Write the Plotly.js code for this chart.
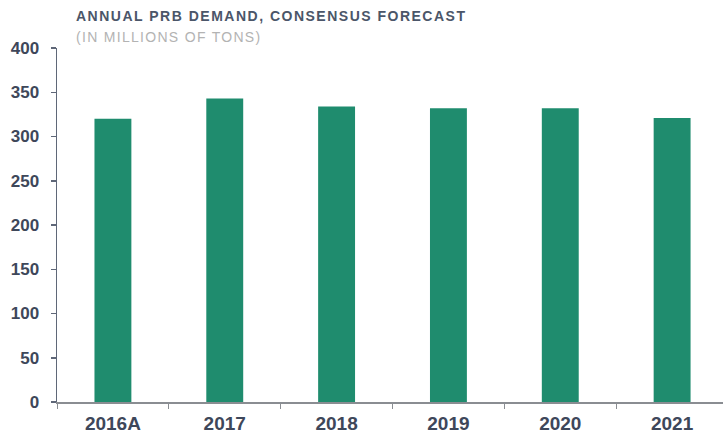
<!DOCTYPE html>
<html>
<head>
<meta charset="utf-8">
<script src="https://cdn.plot.ly/plotly-3.0.1.min.js"></script>
<style>
html,body{margin:0;padding:0;background:#fff;}
</style>
</head>
<body>
<div id="chart" style="width:723px;height:439px;"></div>
<script>
const categories = ["2016A", "2017", "2018", "2019", "2020", "2021"];
const demand = [320, 343, 334, 332, 332, 321];
const yTicks = [0, 50, 100, 150, 200, 250, 300, 350, 400];
const titleText = "ANNUAL PRB DEMAND, CONSENSUS FORECAST";
const subtitleText = "(IN MILLIONS OF TONS)";

const labelColor = "#3e475a";

Plotly.newPlot("chart", [{
  type: "bar",
  x: categories,
  y: demand,
  marker: {color: "#1f8c6e", line: {width: 0}},
  hoverinfo: "none"
}], {
  width: 723,
  height: 439,
  margin: {l: 57, r: 0, t: 48, b: 37},
  paper_bgcolor: "#ffffff",
  plot_bgcolor: "#ffffff",
  bargap: 0.67,
  showlegend: false,
  font: {family: "Liberation Sans, Arial, sans-serif"},
  xaxis: {
    type: "category",
    range: [-0.5, 5.455],
    showline: true,
    linecolor: "#8a8d92",
    linewidth: 2,
    ticks: "outside",
    tickson: "boundaries",
    ticklen: 5,
    tickcolor: "#8a8d92",
    tickwidth: 1,
    showgrid: false,
    zeroline: false,
    tickfont: {size: 19, color: labelColor, weight: "bold"},
    ticklabelstandoff: 3
  },
  yaxis: {
    range: [0, 400],
    tickvals: yTicks,
    showline: true,
    linecolor: "#5f6778",
    linewidth: 1.5,
    ticks: "outside",
    ticklen: 5,
    tickcolor: "#5f6778",
    tickwidth: 1.5,
    showgrid: false,
    zeroline: false,
    ticklabelstandoff: 8,
    tickfont: {size: 17, color: labelColor, weight: "bold"}
  },
  annotations: [
    {text: titleText, xref: "paper", yref: "paper", x: 0.025, y: 1.0918, xanchor: "left", yanchor: "middle",
     align: "left", showarrow: false, font: {size: 14, color: "#4b5669", weight: "bold"}},
    {text: subtitleText, xref: "paper", yref: "paper", x: 0.025, y: 1.032, xanchor: "left", yanchor: "middle",
     align: "left", showarrow: false, font: {size: 14, color: "#b3b3b3"}}
  ]
}, {displayModeBar: false, staticPlot: true}).then(function () {
  const texts = document.querySelectorAll(".annotation-text");
  if (texts[0]) texts[0].style.letterSpacing = "1.5px";
  if (texts[1]) texts[1].style.letterSpacing = "1.3px";
});
</script>
</body>
</html>
